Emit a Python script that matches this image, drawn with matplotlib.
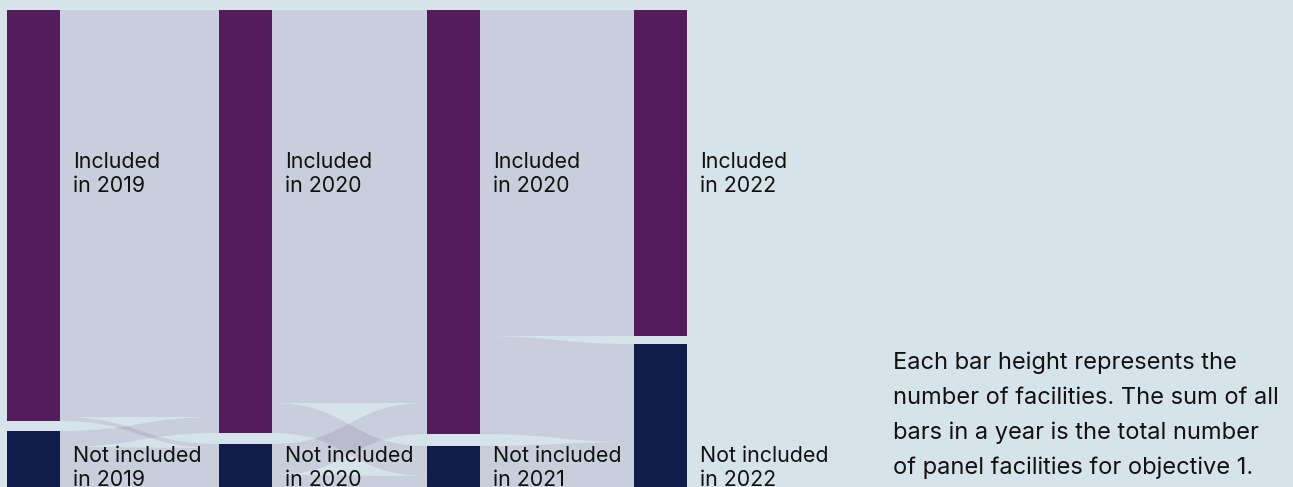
import matplotlib
matplotlib.use("Agg")
import matplotlib.pyplot as plt
from matplotlib.patches import Rectangle, PathPatch
from matplotlib.path import Path

plt.rcParams['font.family'] = ['Inter', 'DejaVu Sans']

# data (number of facilities)
years = ['2019', '2020', '2021', '2022']
incl_years = ['2019', '2020', '2020', '2022']   # label text as printed in the source
included = [411, 423, 424, 326]
not_included = [65, 53, 52, 150]
# flows[k][i][j]: from node i in year k to node j in year k+1 (0 = included, 1 = not included)
flows = [
    [[407, 4], [16, 49]],
    [[393, 30], [31, 22]],
    [[326, 98], [0, 52]],
]
note = ("Each bar height represents the\nnumber of facilities. The sum of all\n"
        "bars in a year is the total number\nof panel facilities for objective 1.")

# layout
bg = '#d6e3ea'
purple = '#541c5b'
navy = '#101c4a'
bar_left = [7, 219, 427, 634]
bar_w = 53
gaps = [10, 11, 12, 8]

fig = plt.figure(figsize=(12.93, 4.87), dpi=100)
fig.patch.set_facecolor(bg)
ax = fig.add_axes([0, 0, 1, 1])
ax.set_facecolor(bg)
ax.set_xlim(0, 1293)
ax.set_ylim(477, -10)
ax.axis('off')

# node positions
nodes = []
for k in range(len(years)):
    y_inc = (0, included[k])
    y_not = (included[k] + gaps[k], included[k] + gaps[k] + not_included[k])
    nodes.append([y_inc, y_not])


def band(x0, x1, a0, a1, b0, b1):
    xm = (x0 + x1) / 2
    verts = [(x0, a0), (xm, a0), (xm, b0), (x1, b0),
             (x1, b1), (xm, b1), (xm, a1), (x0, a1), (x0, a0)]
    codes = [Path.MOVETO, Path.CURVE4, Path.CURVE4, Path.CURVE4,
             Path.LINETO, Path.CURVE4, Path.CURVE4, Path.CURVE4, Path.CLOSEPOLY]
    return Path(verts, codes)


for k, f in enumerate(flows):
    x0 = bar_left[k] + bar_w
    x1 = bar_left[k + 1]
    out_off = [nodes[k][0][0], nodes[k][1][0]]
    in_off = [nodes[k + 1][0][0], nodes[k + 1][1][0]]
    for i in range(2):
        for j in range(2):
            v = f[i][j]
            a0 = out_off[i]
            out_off[i] += v
            b0 = in_off[j]
            in_off[j] += v
            if v == 0:
                continue
            p = band(x0, x1, a0, a0 + v, b0, b0 + v)
            ax.add_patch(PathPatch(p, facecolor=purple, edgecolor='none', alpha=0.1))

for k in range(len(years)):
    (i0, i1), (n0, n1) = nodes[k]
    ax.add_patch(Rectangle((bar_left[k], i0), bar_w, i1 - i0, color=purple, lw=0))
    ax.add_patch(Rectangle((bar_left[k], n0), bar_w, n1 - n0, color=navy, lw=0))
    tx = bar_left[k] + bar_w + 13
    ax.text(tx, 142, 'Included\nin ' + incl_years[k], fontsize=15.4, va='top', ha='left',
            color='#111111', linespacing=1.27)
    ax.text(tx, 436, 'Not included\nin ' + years[k], fontsize=15.4, va='top', ha='left',
            color='#111111', linespacing=1.27)

ax.text(893, 342, note, fontsize=17, va='top', ha='left', color='#111111', linespacing=1.73)

fig.savefig('out.png', dpi=100, facecolor=bg)
